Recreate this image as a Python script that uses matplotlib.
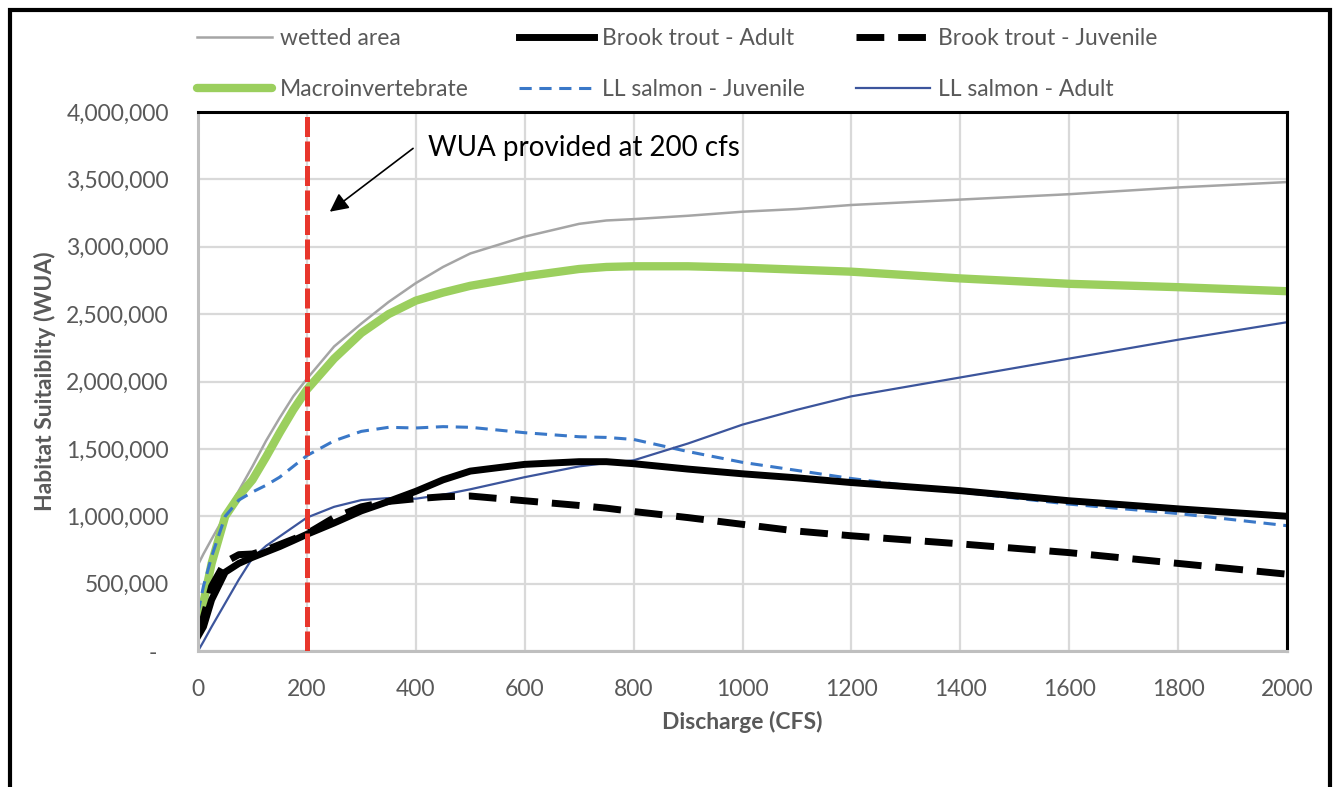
import matplotlib
matplotlib.use("Agg")
import matplotlib.pyplot as plt
from matplotlib.patches import Rectangle
from matplotlib.ticker import FuncFormatter, MultipleLocator

plt.rcParams["font.family"] = ["Lato", "DejaVu Sans"]

# discharge (cfs) shared by all series
discharge = [0, 10, 25, 50, 75, 100, 125, 150, 175, 200, 250, 300, 350, 400, 450, 500,
             600, 700, 750, 800, 900, 1000, 1100, 1200, 1400, 1600, 1800, 2000]

wetted_area = [640e3, 720e3, 830e3, 1010e3, 1190e3, 1370e3, 1560e3, 1730e3, 1890e3, 2020e3,
               2260e3, 2430e3, 2590e3, 2730e3, 2850e3, 2950e3, 3075e3, 3170e3, 3195e3,
               3205e3, 3230e3, 3260e3, 3280e3, 3310e3, 3350e3, 3390e3, 3440e3, 3480e3]
macroinvertebrate = [190e3, 360e3, 650e3, 1000e3, 1150e3, 1270e3, 1440e3, 1620e3, 1790e3, 1940e3,
                     2170e3, 2360e3, 2500e3, 2600e3, 2660e3, 2710e3, 2780e3, 2835e3, 2850e3,
                     2855e3, 2855e3, 2845e3, 2830e3, 2815e3, 2765e3, 2725e3, 2700e3, 2670e3]
brook_adult = [110e3, 180e3, 380e3, 585e3, 650e3, 695e3, 735e3, 775e3, 820e3, 866e3,
               950e3, 1040e3, 1110e3, 1185e3, 1270e3, 1335e3, 1385e3, 1405e3, 1405e3,
               1390e3, 1350e3, 1315e3, 1285e3, 1250e3, 1190e3, 1115e3, 1055e3, 1000e3]
brook_juvenile = [130e3, 250e3, 480e3, 660e3, 715e3, 720e3, 750e3, 790e3, 830e3, 870e3,
                  990e3, 1070e3, 1110e3, 1130e3, 1145e3, 1150e3, 1115e3, 1080e3, 1060e3,
                  1035e3, 990e3, 940e3, 890e3, 855e3, 795e3, 730e3, 650e3, 570e3]
salmon_juvenile = [285e3, 480e3, 700e3, 1000e3, 1120e3, 1180e3, 1230e3, 1290e3, 1370e3, 1450e3,
                   1560e3, 1630e3, 1660e3, 1655e3, 1665e3, 1660e3, 1620e3, 1590e3, 1585e3,
                   1570e3, 1480e3, 1400e3, 1340e3, 1280e3, 1180e3, 1090e3, 1020e3, 930e3]
salmon_adult = [0, 70e3, 180e3, 355e3, 530e3, 690e3, 780e3, 850e3, 920e3, 990e3,
                1070e3, 1120e3, 1135e3, 1130e3, 1160e3, 1200e3, 1290e3, 1370e3, 1395e3,
                1415e3, 1540e3, 1680e3, 1790e3, 1890e3, 2030e3, 2170e3, 2310e3, 2440e3]

flow_mark = 200  # cfs provided
note = "WUA provided at 200 cfs"

fig = plt.figure(figsize=(13.36, 7.87), dpi=100)
ax = fig.add_axes([198 / 1336, 1 - 651 / 787, 1089 / 1336, 539 / 787])

l_wet, = ax.plot(discharge, wetted_area, color="#A5A5A5", lw=1.8, label="wetted area")
l_mac, = ax.plot(discharge, macroinvertebrate, color="#9BCF5E", lw=6, label="Macroinvertebrate",
                 solid_capstyle="round")
l_sj, = ax.plot(discharge, salmon_juvenile, color="#3A78C8", lw=2.2, dashes=(4, 2.5),
                label="LL salmon - Juvenile")
l_sa, = ax.plot(discharge, salmon_adult, color="#3C559C", lw=1.6, label="LL salmon - Adult")
l_ba, = ax.plot(discharge, brook_adult, color="black", lw=5, label="Brook trout - Adult")
l_bj, = ax.plot(discharge, brook_juvenile, color="black", lw=5, dashes=(4, 2),
                label="Brook trout - Juvenile")

ax.axvline(flow_mark, color="#E8362C", lw=3.6, dashes=(4, 0.9), zorder=5)

# note and arrow pointing at the 200 cfs line
ax.text(422, 3.73e6, note, fontsize=20, va="center", ha="left", color="black")
ax.annotate("", xy=(242, 3.26e6), xytext=(395, 3.73e6),
            arrowprops=dict(arrowstyle="-|>", color="black", lw=1.2, mutation_scale=28,
                            shrinkA=0, shrinkB=0))

ax.set_xlim(0, 2000)
ax.set_ylim(0, 4e6)
ax.xaxis.set_major_locator(MultipleLocator(200))
ax.yaxis.set_major_locator(MultipleLocator(500000))
ax.yaxis.set_major_formatter(FuncFormatter(lambda v, p: "-  " if v == 0 else f"{v:,.0f}"))
ax.grid(True, color="#D9D9D9", lw=1.6)
ax.set_axisbelow(True)
ax.tick_params(length=0, labelsize=16.5, labelcolor="#595959")
ax.tick_params(axis="x", pad=20)
ax.tick_params(axis="y", pad=21)

for s in ["top", "right"]:
    ax.spines[s].set_color("black")
    ax.spines[s].set_linewidth(2.2)
for s in ["bottom", "left"]:
    ax.spines[s].set_color("#BFBFBF")
    ax.spines[s].set_linewidth(2.2)

ax.set_xlabel("Discharge (CFS)", fontsize=16.5, fontweight="bold", color="#595959", labelpad=8)
ax.set_ylabel("Habitat Suitaiblity (WUA)", fontsize=16.5, fontweight="bold", color="#595959",
              labelpad=7)

handles = [l_wet, l_mac, l_ba, l_sj, l_bj, l_sa]
fig.legend(handles=handles, labels=[h.get_label() for h in handles], ncol=3, frameon=False,
           loc="upper left", bbox_to_anchor=(197 / 1336, 1 - 28 / 787), borderpad=0,
           borderaxespad=0, fontsize=16.5, handlelength=3.27, handletextpad=0.35,
           columnspacing=2.2, labelspacing=1.3, labelcolor="#595959")

# outer frame around the chart
fig.add_artist(Rectangle((9.5 / 1336, -0.05), 1320 / 1336, 1.05 - 10 / 787,
                         transform=fig.transFigure, fill=False, ec="black", lw=3))

fig.savefig("out.png", dpi=100)
plt.close(fig)
